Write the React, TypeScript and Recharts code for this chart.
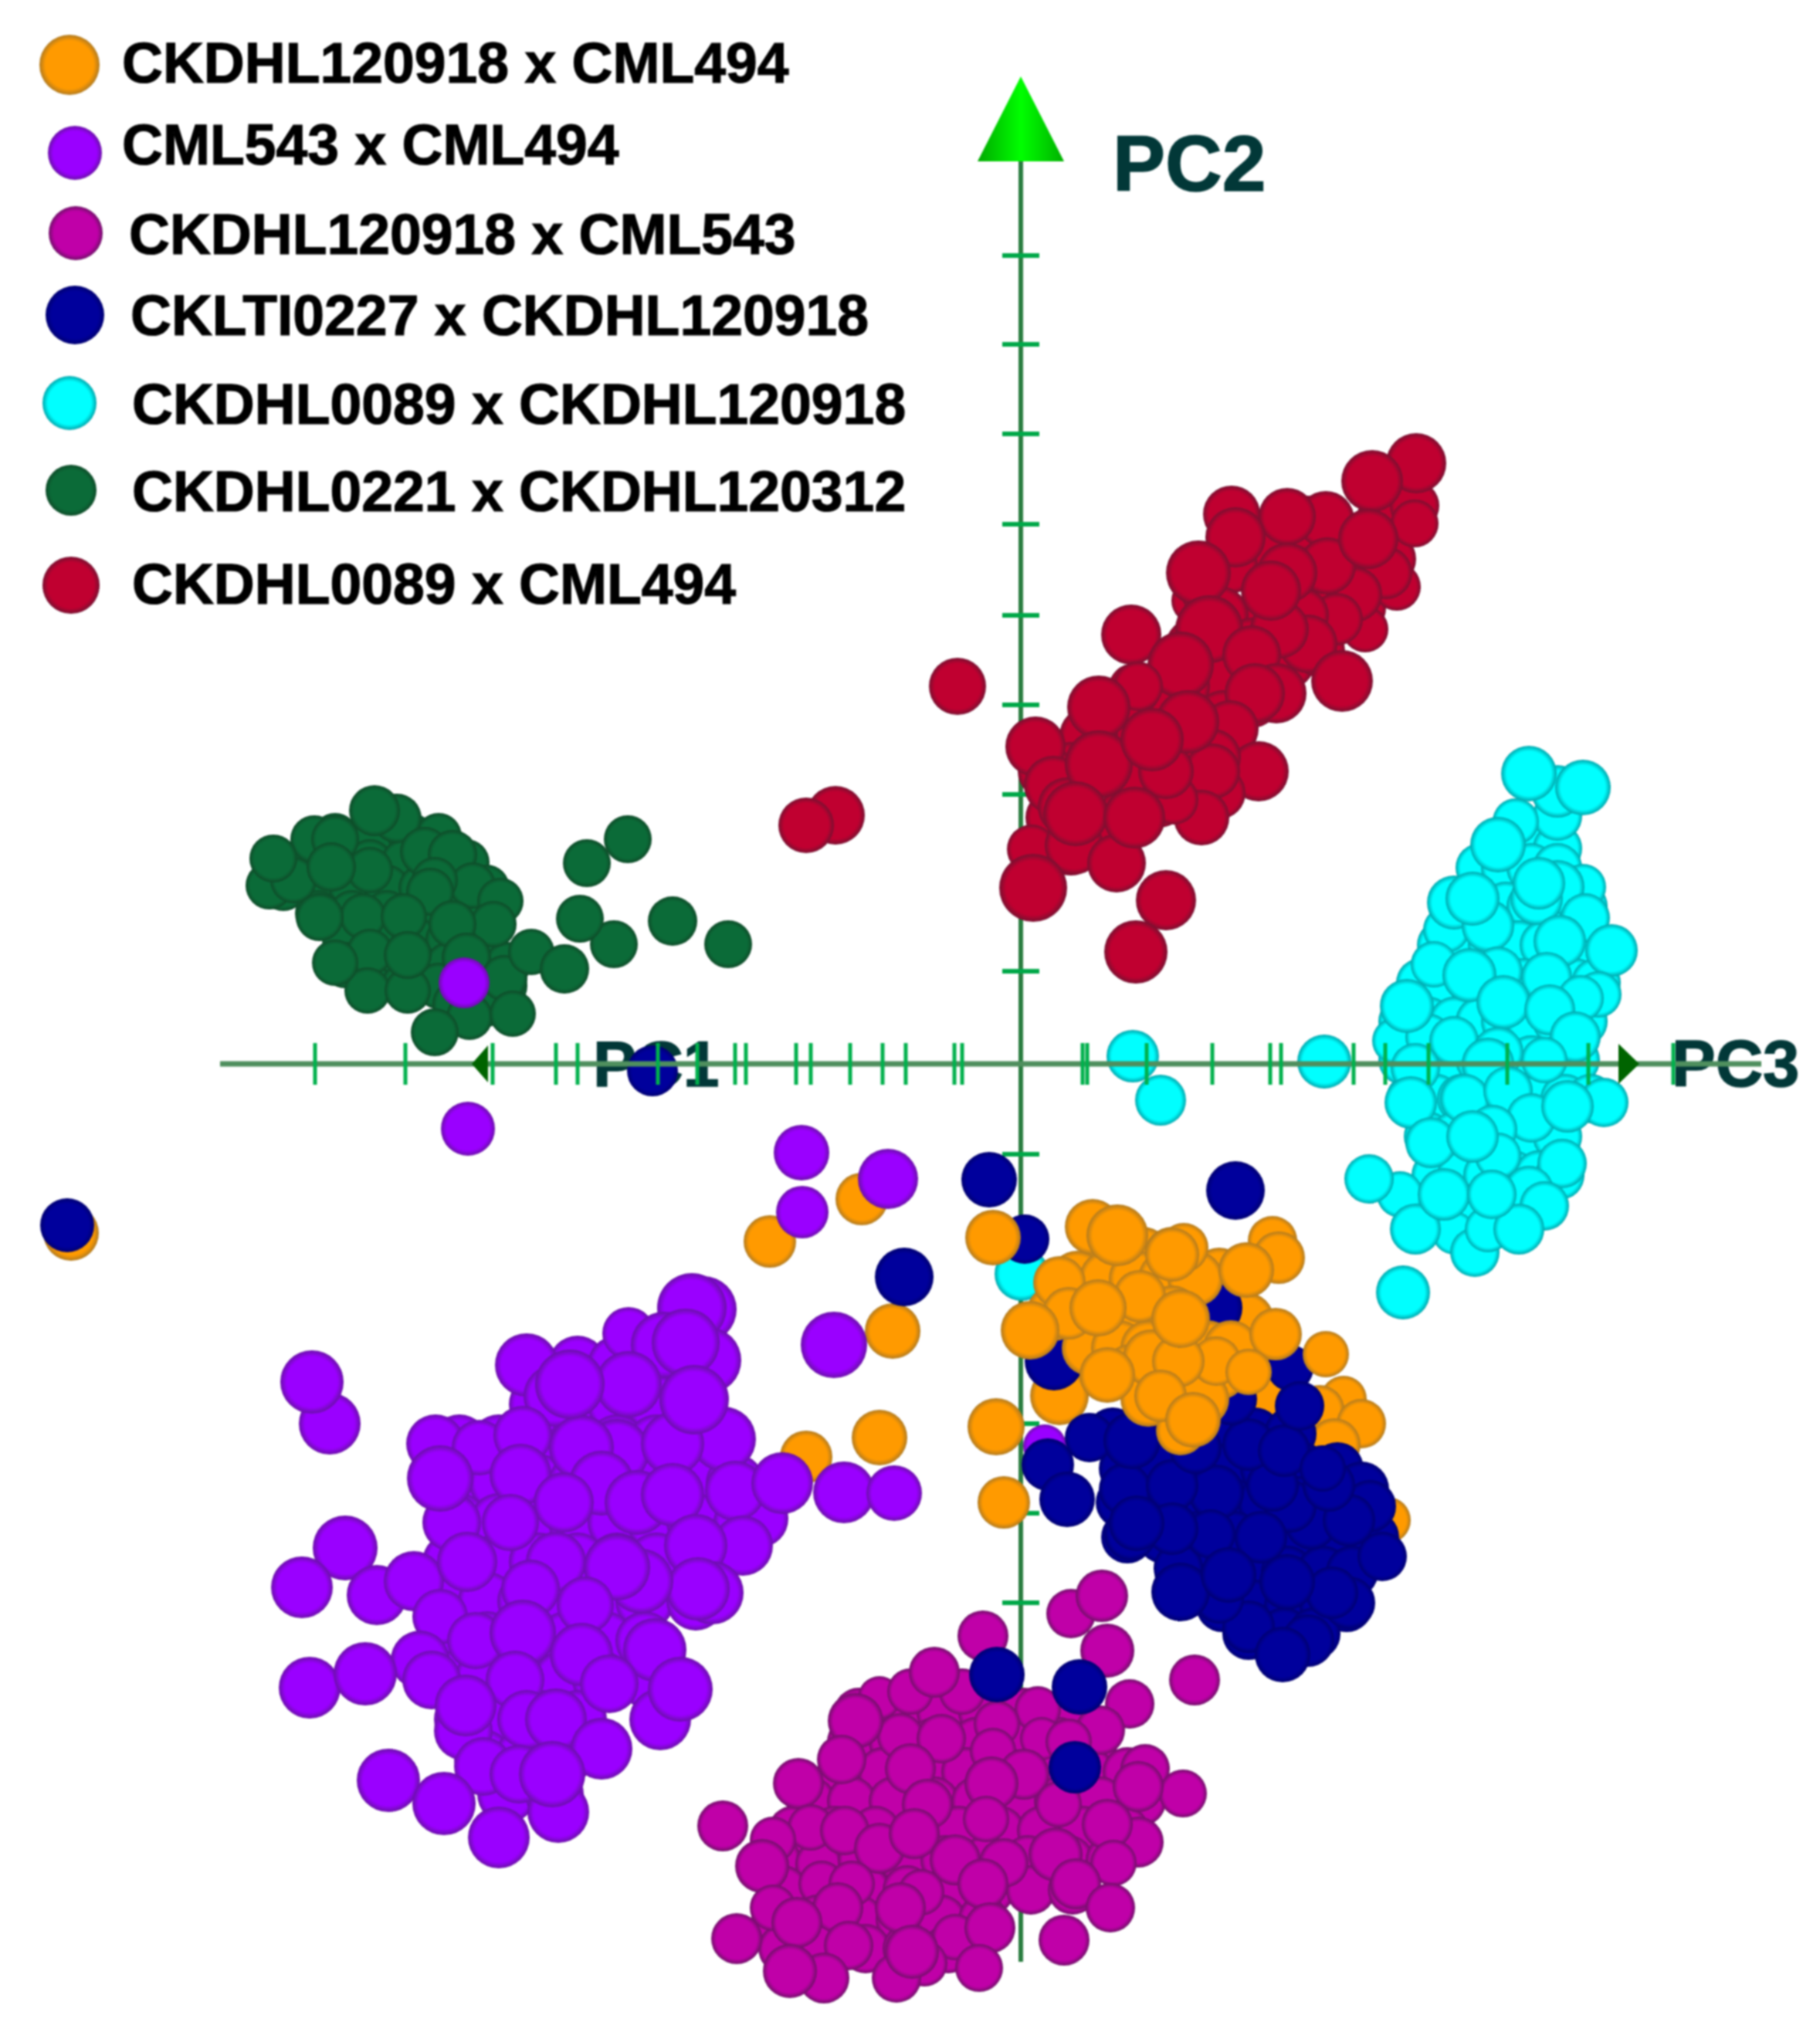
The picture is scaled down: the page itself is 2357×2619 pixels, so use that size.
import React from "react";
import { ScatterChart, Scatter, XAxis, YAxis, Legend } from "recharts";

type P = number[];

const legendNames = [
  "CKDHL120918 x CML494",
  "CML543 x CML494",
  "CKDHL120918 x CML543",
  "CKLTI0227 x CKDHL120918",
  "CKDHL0089 x CKDHL120918",
  "CKDHL0221 x CKDHL120312",
  "CKDHL0089 x CML494",
];

// [PC3, PC2, depth] for each accession; the *Inner lists are the spheres deep inside a cloud
const redInner: P[] = [
  [225,600,2],[240,610,4],
  [501,723,8],[468,700,8],[478,654,6],[432,664,8],[372,700,8],[317,677,8],[271,645,8],[363,618,10],[432,618,6],[395,581,6],[441,590,4],[363,563,8],[317,581,10],[257,581,10],
  [299,540,10],[345,521,8],[386,535,6],[225,540,10],[262,498,10],[207,489,10],[299,471,8],[262,448,8],[225,425,8],[271,411,6],[179,471,8],[147,485,6],[133,439,10],[88,425,10],
  [216,384,8],[248,356,4],[179,342,8],[133,379,10],[65,379,10],[32,379,8],[133,319,8],[88,310,8],[42,319,8],[115,287,6],[65,278,6],
];
const redPoints: P[] = [
  [-240,322,10],[-278,309,8],[-82,489,9],
  [510,723,4],[510,700,3],[512,778,11],[487,618,3],[473,636,6],[446,563,2],[432,608,8],[409,576,6],[395,705,9],[345,709,9],[273,712,9],
  [397,645,9],[363,581,8],[345,636,11],[372,544,10],[335,563,10],[416,496,12],[455,755,12],[450,680,11],[278,682,11],[230,636,14],
  [143,556,11],[244,563,16],[207,517,15],[299,530,10],[331,480,11],[303,480,11],[271,434,9],[324,613,11],
  [308,379,11],[257,351,6],[248,397,9],[248,379,8],[234,319,8],[198,342,4],[188,379,8],[152,489,4],
  [101,462,13],[216,443,13],[19,411,11],[14,278,4],[69,283,10],[124,260,10],[42,361,10],[60,333,10],[101,388,16],[71,324,14],[147,319,12],[170,420,13],
  [16,228,16],[188,212,11],[149,145,13],
];

const cyanInner: P[] = [
  [661,279,4],[695,279,4],[595,254,4],[628,254,4],[661,254,4],[695,254,4],
  [561,204,4],[595,204,4],[628,204,4],[661,204,4],[695,204,4],[728,204,4],
  [545,154,4],[578,154,4],[611,154,4],[645,154,4],[678,154,4],[711,154,4],[738,154,4],
  [518,105,4],[551,105,4],[585,105,4],[618,105,4],[651,105,4],[685,105,4],[718,105,4],[745,105,4],
  [495,55,4],[528,55,4],[561,55,4],[595,55,4],[628,55,4],[661,55,4],[695,55,4],[728,55,4],
  [495,5,4],[528,5,4],[561,5,4],[595,5,4],[628,5,4],[661,5,4],[695,5,4],[718,5,4],
  [505,-45,4],[538,-45,4],[571,-45,4],[605,-45,4],[638,-45,4],[671,-45,4],[705,-45,4],[738,-45,4],
  [528,-94,4],[561,-94,4],[595,-94,4],[628,-94,4],[661,-94,4],[695,-94,4],
  [538,-144,4],[571,-144,4],[605,-144,4],[638,-144,4],[671,-144,4],[698,-144,4],
  [528,-184,4],[561,-184,4],[595,-184,4],[628,-184,4],[661,-184,4],
];
const cyanPoints: P[] = [
  [1,-272,7],[145,10,6],[181,-47,5],[393,3,7],
  [695,321,4],[641,314,2],[695,353,6],[728,358,8],[658,376,8],[618,284,8],
  [728,229,2],[695,229,7],[668,214,6],[671,234,6],[551,174,2],[561,209,7],[605,179,6],[585,214,7],[731,189,4],[698,159,6],[765,147,6],
  [535,129,2],[618,120,4],[581,115,7],[681,112,5],[748,90,2],[725,85,2],[625,80,7],[685,70,5],
  [718,35,5],[485,30,2],[528,35,2],[561,30,4],[500,75,7],[678,5,2],[618,15,5],[605,0,6],[511,-5,4],
  [575,-45,4],[631,-35,4],[505,-50,6],[755,-50,4],[661,-70,4],[708,-55,6],[531,-102,5],[611,-85,4],[618,-119,2],[585,-94,6],[701,-129,4],
  [491,-169,2],[451,-149,4],[658,-164,4],[678,-184,4],[561,-219,0],[588,-244,4],[605,-214,2],[511,-214,5],[645,-214,5],[548,-169,6],[610,-169,4],
  [495,-296,7],
];

const greenInner: P[] = [
  [-888,295,2],[-834,295,2],[-790,295,2],[-754,295,2],
  [-933,261,2],[-888,261,2],[-843,261,2],[-799,261,2],[-754,261,2],[-718,261,2],
  [-955,228,2],[-910,228,2],[-866,228,2],[-821,228,2],[-776,228,2],[-732,228,2],[-692,228,2],
  [-910,195,2],[-866,195,2],[-821,195,2],[-776,195,2],[-732,195,2],[-687,195,2],
  [-875,161,2],[-830,161,2],[-785,161,2],[-741,161,2],[-696,161,2],
  [-875,128,2],[-830,128,2],[-785,128,2],[-741,128,2],[-696,128,2],[-665,128,2],
  [-843,101,2],[-799,101,2],[-754,101,2],[-710,101,2],[-669,101,2],[-732,78,2],[-692,78,2],
];
const greenPoints: P[] = [
  [-973,231,3],[-942,238,2],[-915,291,3],[-888,291,3],[-808,318,4],[-837,328,5],[-968,266,3],[-843,251,2],[-772,275,4],[-736,271,4],[-710,231,2],[-674,211,2],[-683,181,2],
  [-759,238,2],[-893,255,4],[-765,223,3],[-852,191,2],[-908,190,3],[-799,191,2],[-736,181,3],[-843,145,2],[-846,95,2],[-794,95,2],[-888,131,2],[-794,141,3],[-718,138,4],[-669,111,2],[-714,61,2],[-658,65,2],[-759,41,3],
  [-634,145,2],[-591,123,4],[-527,155,3],[-571,188,3],[-562,260,3],[-509,291,3],[-451,185,4],[-379,155,3],
];

const magentaInner: P[] = [
  [-210,-840,4],[-156,-840,4],[-103,-840,4],[-49,-840,4],[4,-840,4],[58,-840,4],
  [-219,-878,4],[-165,-878,4],[-112,-878,4],[-58,-878,4],[-5,-878,4],[49,-878,4],[94,-878,4],
  [-232,-917,4],[-179,-917,4],[-125,-917,4],[-71,-917,4],[-18,-917,4],[36,-917,4],[89,-917,4],[138,-917,4],
  [-272,-955,4],[-219,-955,4],[-165,-955,4],[-112,-955,4],[-58,-955,4],[-5,-955,4],[49,-955,4],[103,-955,4],[156,-955,4],
  [-295,-993,4],[-241,-993,4],[-188,-993,4],[-134,-993,4],[-80,-993,4],[-27,-993,4],[27,-993,4],[80,-993,4],[134,-993,4],
  [-317,-1031,4],[-262,-1036,2],[-205,-1031,4],[-152,-1031,4],[-98,-1031,4],[-45,-1031,4],[9,-1031,4],[62,-1031,4],[116,-1031,4],
  [-308,-1070,4],[-258,-1062,2],[-201,-1070,4],[-147,-1070,4],[-94,-1070,4],[-40,-1070,4],[13,-1070,4],[67,-1070,4],
  [-317,-1108,4],[-263,-1108,4],[-210,-1108,4],[-156,-1108,4],[-103,-1108,4],[-49,-1108,4],
  [-308,-1146,4],[-254,-1146,4],[-201,-1146,4],[-147,-1146,4],[-94,-1146,4],
];
const magentaPoints: P[] = [
  [-49,-741,5],[65,-712,4],[105,-689,6],[112,-760,7],[225,-798,5],[141,-829,4],[103,-863,4],
  [-183,-821,0],[-143,-813,2],[-76,-813,2],[-112,-788,5],[22,-836,2],[-31,-855,2],[-156,-871,2],[-214,-851,8],[-103,-874,4],[27,-874,0],[62,-878,2],[-36,-890,2],
  [-232,-901,4],[-143,-913,5],[-288,-932,5],[161,-913,4],[210,-945,3],[152,-936,5],[4,-920,5],[-121,-959,5],[49,-959,2],[-38,-932,7],
  [152,-1008,5],[112,-985,5],[-45,-978,2],[-272,-989,2],[-228,-993,4],[-321,-1005,2],[-386,-987,5],[-183,-1016,5],[-138,-997,5],
  [-85,-1031,5],[-22,-1035,4],[120,-1035,2],[45,-1024,7],[-219,-1062,2],[-129,-1073,2],[-49,-1062,5],[71,-1062,5],[116,-1093,4],[-335,-1039,7],
  [-321,-1093,2],[-237,-1093,5],[-156,-1093,5],[-290,-1112,5],[-368,-1133,5],[-223,-1142,4],[-85,-1131,2],[-40,-1119,5],[56,-1135,5],
  [-54,-1171,3],[-125,-1165,2],[-255,-1184,5],[-299,-1175,7],[-161,-1184,4],[-141,-1150,7],
];

const orangeBackPoints: P[] = [
  [-1230,-219,8],[-206,-175,6],[-278,-509,6],[-183,-484,8],[-325,-230,6],[-166,-346,8],
  [50,-430,10],[257,-274,8],[292,-332,8],[315,-412,4],[318,-434,4],[418,-434,2],[387,-448,4],[441,-466,4],[406,-493,6],[475,-591,2],
];

const purpleInner: P[] = [
  [-574,-390,10],[-523,-390,10],[-472,-390,10],[-421,-390,10],
  [-625,-441,10],[-574,-441,10],[-523,-441,10],[-472,-441,10],[-421,-441,10],
  [-727,-492,10],[-676,-492,10],[-625,-492,10],[-574,-492,10],[-523,-492,10],[-472,-492,10],[-411,-492,10],
  [-727,-543,10],[-676,-543,10],[-625,-543,10],[-574,-543,10],[-523,-543,10],[-472,-543,10],[-421,-543,10],[-370,-543,10],
  [-727,-594,10],[-676,-594,10],[-625,-594,10],[-574,-594,10],[-523,-594,10],[-472,-594,10],[-421,-594,10],[-360,-594,10],
  [-737,-645,10],[-676,-645,10],[-625,-645,10],[-574,-645,10],[-523,-645,10],[-472,-645,10],[-411,-645,10],
  [-742,-696,10],[-691,-696,10],[-640,-696,10],[-589,-696,10],[-538,-696,10],[-487,-696,10],[-421,-696,10],
  [-742,-747,10],[-691,-747,10],[-640,-747,10],[-589,-747,10],[-538,-747,10],[-487,-747,10],
  [-747,-798,10],[-696,-798,10],[-645,-798,10],[-594,-798,10],[-543,-798,10],[-482,-798,10],
  [-722,-849,10],[-671,-849,10],[-620,-849,10],[-574,-849,10],
  [-696,-900,10],[-645,-900,10],[-594,-900,10],[-666,-946,10],[-604,-946,10],
];
const purplePoints: P[] = [
  [-895,-466,12],[-918,-412,13],[-716,-84,7],[-721,105,5],[-284,-115,8],[-283,-192,6],[-172,-149,11],[-242,-364,15],[31,-495,0],
  [-411,-318,15],[-426,-316,17],[-508,-349,6],[-405,-384,15],[-462,-364,15],[-434,-361,16],[-640,-390,13],[-508,-415,15],[-604,-430,12],
  [-385,-486,14],[-758,-492,10],[-701,-497,8],[-645,-481,10],[-523,-502,14],[-569,-497,14],[-451,-492,13],[-543,-543,14],[-497,-568,14],
  [-451,-558,13],[-339,-589,10],[-370,-553,11],[-309,-543,12],[-229,-555,12],[-164,-556,8],[-737,-594,10],[-752,-537,15],[-648,-532,12],[-592,-568,11],[-661,-594,9],
  [-360,-624,11],[-421,-624,13],[-875,-627,14],[-931,-678,12],[-834,-688,11],[-786,-670,11],[-717,-645,11],[-602,-645,11],[-400,-685,13],[-418,-680,13],[-492,-670,14],[-523,-652,15],
  [-635,-680,10],[-752,-716,8],[-564,-701,9],[-706,-747,9],[-645,-737,15],[-569,-765,13],[-474,-759,13],[-778,-772,10],[-763,-798,10],
  [-921,-808,12],[-849,-790,13],[-655,-798,10],[-533,-803,10],[-467,-849,12],[-441,-810,14],[-722,-864,10],[-719,-831,12],[-640,-849,10],[-602,-849,12],
  [-543,-887,12],[-696,-910,10],[-650,-920,10],[-819,-928,13],[-599,-969,12],[-747,-958,13],[-676,-1002,12],[-607,-920,15],[-584,-415,17],[-423,-435,17],
];

const navyInner: P[] = [
  [119,-479,6],[165,-479,6],[211,-479,6],[257,-479,6],[303,-479,6],[349,-479,6],
  [135,-524,6],[181,-524,6],[227,-524,6],[272,-524,6],[318,-524,6],[364,-524,6],[410,-524,6],
  [131,-568,6],[177,-568,6],[223,-568,6],[269,-568,6],[315,-568,6],[360,-568,6],[406,-568,6],[441,-568,6],
  [138,-613,6],[184,-613,6],[230,-613,6],[276,-613,6],[322,-613,6],[368,-613,6],[414,-613,6],[456,-613,6],
  [207,-658,6],[253,-658,6],[299,-658,6],[345,-658,6],[391,-658,6],[429,-658,6],
  [261,-702,6],[303,-702,6],[349,-702,6],[395,-702,6],[422,-702,6],[295,-738,6],[341,-738,6],[380,-738,6],
];
const navyPoints: P[] = [
  [-1235,-209,7],[-477,-9,5],[-41,-150,8],[-151,-276,10],[278,-164,10],[5,-227,4],[249,-316,10],[43,-385,10],[349,-394,2],
  [441,-551,8],[452,-573,6],[468,-638,4],[425,-698,6],[372,-747,6],[295,-729,6],[257,-693,4],[403,-685,6],[204,-653,4],[376,-595,6],[425,-591,6],[349,-573,6],[311,-613,6],
  [253,-555,8],[326,-546,6],[399,-546,6],[142,-609,6],[246,-609,4],[135,-551,6],[196,-546,6],[196,-602,6],[150,-595,8],[207,-684,10],[269,-662,8],[345,-671,8],[339,-765,8],
  [35,-519,6],[60,-564,8],[89,-484,4],[295,-493,6],[341,-501,6],[226,-497,6],[391,-524,2],[272,-434,6],[361,-443,4],[144,-488,9],
  [-31,-791,8],[76,-807,8],[70,-911,6],
];

const orangeInner: P[] = [
  [112,-247,8],[158,-247,8],[196,-247,8],
  [73,-278,8],[112,-278,8],[150,-278,8],[188,-278,8],[226,-278,8],
  [43,-323,8],[81,-323,8],[119,-323,8],[158,-323,8],[196,-323,8],
  [89,-368,8],[127,-368,8],[165,-368,8],[204,-368,8],[242,-368,8],[272,-368,8],
  [142,-399,8],[181,-399,8],[219,-399,8],[257,-399,8],[165,-434,8],[204,-434,8],[234,-434,8],
];
const orangeFrontPoints: P[] = [
  [93,-211,8],[211,-238,4],[196,-247,7],[125,-222,12],[326,-229,4],[334,-251,6],[292,-267,8],[50,-283,6],[154,-301,6],[62,-323,6],[100,-316,9],[12,-345,10],
  [330,-350,6],[395,-376,2],[253,-385,4],[295,-399,2],[169,-381,9],[204,-385,6],[207,-475,4],[181,-430,6],[223,-461,8],[112,-403,8],[207,-330,10],
  [-36,-225,8],[-32,-470,9],[-22,-568,6],
];

const hAxisEnds: P[] = [[-1037,0],[959,0]];
const vAxisEnds: P[] = [[0,1169],[0,-1163]];
const hTicks: number[] = [-914,-797,-684,-602,-574,-470,-419,-370,-356,-291,-272,-221,-179,-149,-86,-76,80,86,163,248,323,337,431,472,528,630,735,845];
const vTicks: number[] = [1047,932,816,699,581,465,349,233,120,-117,-233,-349,-466,-582,-698];
const axisLabels = [
  { x: 119, y: 1131, label: "PC2", size: 102 },
  { x: -554, y: -29, label: "PC1", size: 84 },
  { x: 843, y: -29, label: "PC3", size: 85 },
];
const topArrow: P[] = [[0,1169]];
const leftArrow: P[] = [[-711,0]];
const rightArrow: P[] = [[801,0]];

const toRows = (a: P[]) => a.map(([x, y, d]) => ({ x, y, d }));

const palette: Record<string, [string, string]> = {
  orange: ["#ff9a00", "#b07a20"],
  purple: ["#9a00ff", "#6a10a8"],
  magenta: ["#c000a8", "#701068"],
  navy: ["#00009c", "#000070"],
  cyan: ["#00ffff", "#00a4aa"],
  green: ["#0b6b38", "#0e4a28"],
  red: ["#c00030", "#781030"],
};

const Ball = (key: string) => (p: any) => (
  <circle cx={p.cx} cy={p.cy} r={28 + (p.payload?.d ?? 0)} fill={`url(#ball-${key})`} />
);

const HTick = (p: any) => (
  <line x1={p.cx} x2={p.cx} y1={p.cy - 27} y2={p.cy + 27} stroke="#00b04c" strokeWidth={5} />
);
const VTick = (p: any) => (
  <line x1={p.cx - 24} x2={p.cx + 24} y1={p.cy} y2={p.cy} stroke="#00a848" strokeWidth={6} />
);
const TopArrow = (p: any) => (
  <path d={`M${p.cx} ${p.cy - 110}L${p.cx + 56} ${p.cy}L${p.cx - 56} ${p.cy}Z`} fill="url(#cone)" />
);
const LeftArrow = (p: any) => (
  <path d={`M${p.cx} ${p.cy}L${p.cx + 21} ${p.cy - 24}L${p.cx + 21} ${p.cy + 24}Z`} fill="#006400" />
);
const RightArrow = (p: any) => (
  <path d={`M${p.cx} ${p.cy}L${p.cx - 27} ${p.cy - 26}L${p.cx - 27} ${p.cy + 26}Z`} fill="#006400" />
);
const AxisText = (p: any) => (
  <text x={p.cx} y={p.cy} fontFamily="Liberation Sans" fontWeight={700} fontSize={p.payload.size} fill="#023838" stroke="#023838" strokeWidth={1.5}>
    {p.payload.label}
  </text>
);
const NoMark = () => <g />;

const legendSpots = [
  { c: "orange", cx: 90, cy: 84, r: 39, tx: 158, ty: 107 },
  { c: "purple", cx: 97, cy: 198, r: 35, tx: 158, ty: 213 },
  { c: "magenta", cx: 98, cy: 302, r: 35, tx: 167, ty: 329 },
  { c: "navy", cx: 97, cy: 408, r: 38, tx: 169, ty: 434 },
  { c: "cyan", cx: 90, cy: 522, r: 35, tx: 171, ty: 549 },
  { c: "green", cx: 92, cy: 635, r: 33, tx: 171, ty: 662 },
  { c: "red", cx: 92, cy: 758, r: 37, tx: 171, ty: 782 },
];

const LegendBox = () => (
  <svg width={1300} height={830} style={{ display: "block" }}>
    {legendSpots.map((s, i) => (
      <g key={s.c}>
        <circle cx={s.cx} cy={s.cy} r={s.r} fill={`url(#ball-${s.c})`} />
        <text x={s.tx} y={s.ty} fontFamily="Liberation Sans" fontWeight={700} fontSize={73.3} fill="#000" stroke="#000" strokeWidth={1.2}>
          {legendNames[i]}
        </text>
      </g>
    ))}
  </svg>
);

export default function App() {
  return (
    <div style={{ position: "absolute", left: 0, top: 0, width: 2357, height: 2619, background: "#fff", filter: "blur(1px)" }}>
      <ScatterChart width={2357} height={2619} margin={{ top: 0, right: 0, bottom: 0, left: 0 }}>
        <defs>
          {Object.entries(palette).map(([k, [c, e]]) => (
            <radialGradient id={`ball-${k}`} key={k} cx="50%" cy="50%" r="50%">
              <stop offset="0%" stopColor={c} />
              <stop offset="80%" stopColor={c} />
              <stop offset="100%" stopColor={e} />
            </radialGradient>
          ))}
          <linearGradient id="cone" x1="0" y1="0" x2="1" y2="0">
            <stop offset="0%" stopColor="#00a800" />
            <stop offset="50%" stopColor="#00ff00" />
            <stop offset="100%" stopColor="#00b000" />
          </linearGradient>
        </defs>
        <XAxis type="number" dataKey="x" domain={[-1322, 1035]} hide allowDataOverflow />
        <YAxis type="number" dataKey="y" domain={[-1241, 1378]} hide allowDataOverflow />
        <Legend
          layout="horizontal"
          align="center"
          verticalAlign="middle"
          content={LegendBox}
          wrapperStyle={{ left: 0, top: 0, width: 1300, height: 830 }}
        />
        <Scatter data={toRows(vAxisEnds)} line={{ stroke: "#2a7d40", strokeWidth: 6 }} shape={NoMark} legendType="none" isAnimationActive={false} />
        <Scatter data={vTicks.map((y) => ({ x: 0, y }))} shape={VTick} legendType="none" isAnimationActive={false} />
        <Scatter data={toRows(topArrow)} shape={TopArrow} legendType="none" isAnimationActive={false} />
        <Scatter data={axisLabels} shape={AxisText} legendType="none" isAnimationActive={false} />
        <Scatter name={legendNames[4]} data={toRows([...cyanInner, ...cyanPoints])} shape={Ball("cyan")} isAnimationActive={false} />
        <Scatter name={legendNames[6]} data={toRows([...redInner, ...redPoints])} shape={Ball("red")} isAnimationActive={false} />
        <Scatter name={legendNames[5]} data={toRows([...greenInner, ...greenPoints])} shape={Ball("green")} isAnimationActive={false} />
        <Scatter name={legendNames[2]} data={toRows([...magentaInner, ...magentaPoints])} shape={Ball("magenta")} isAnimationActive={false} />
        <Scatter name={legendNames[0]} data={toRows(orangeBackPoints)} shape={Ball("orange")} legendType="none" isAnimationActive={false} />
        <Scatter name={legendNames[1]} data={toRows([...purpleInner, ...purplePoints])} shape={Ball("purple")} isAnimationActive={false} />
        <Scatter name={legendNames[3]} data={toRows([...navyInner, ...navyPoints])} shape={Ball("navy")} isAnimationActive={false} />
        <Scatter name={legendNames[0]} data={toRows([...orangeInner, ...orangeFrontPoints])} shape={Ball("orange")} isAnimationActive={false} />
        <Scatter data={toRows(hAxisEnds)} line={{ stroke: "#4f8f5e", strokeWidth: 7 }} shape={NoMark} legendType="none" isAnimationActive={false} />
        <Scatter data={hTicks.map((x) => ({ x, y: 0 }))} shape={HTick} legendType="none" isAnimationActive={false} />
        <Scatter data={toRows(leftArrow)} shape={LeftArrow} legendType="none" isAnimationActive={false} />
        <Scatter data={toRows(rightArrow)} shape={RightArrow} legendType="none" isAnimationActive={false} />
      </ScatterChart>
    </div>
  );
}
